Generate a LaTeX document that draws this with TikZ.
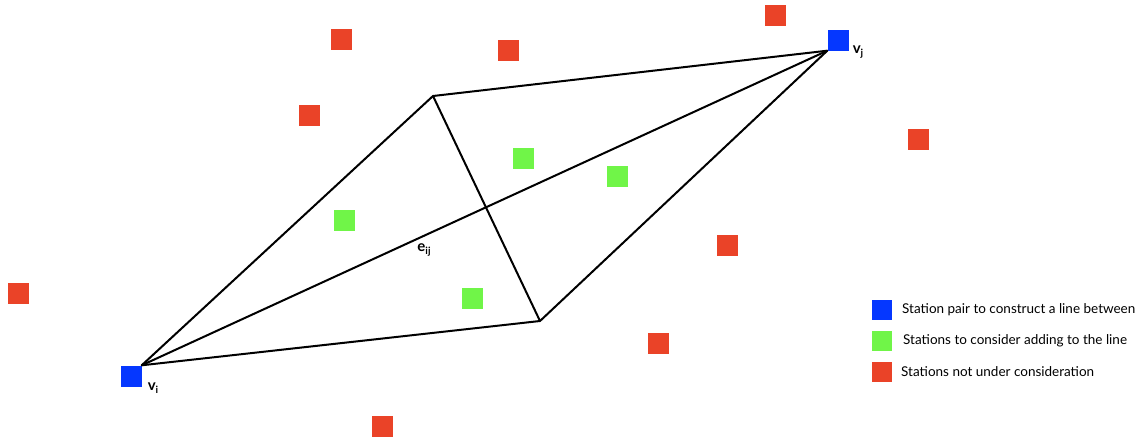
\documentclass[tikz,border=0pt]{standalone}
\usepackage{fontspec}
\setmainfont{Lato}
\definecolor{stred}{RGB}{234,67,40}
\definecolor{stgreen}{RGB}{112,245,72}
\definecolor{stblue}{RGB}{5,55,255}
\newcommand{\lowsub}[1]{\raisebox{-0.45ex}{\fontsize{10}{11}\selectfont #1}}
\tikzset{
  sq/.style={rectangle, inner sep=0pt, minimum size=21pt},
  redsq/.style={sq, fill=stred},
  greensq/.style={sq, fill=stgreen},
  bluesq/.style={sq, fill=stblue},
  legsq/.style={rectangle, inner sep=0pt, minimum size=20pt},
  edge/.style={line width=2pt, line join=round},
  lab/.style={font=\fontsize{15}{16}\selectfont\bfseries, inner sep=0pt},
  legtext/.style={font=\fontsize{13.5}{15}\selectfont, anchor=west, inner sep=0pt}
}
\begin{document}
\begin{tikzpicture}[x=1pt,y=-1pt]
\useasboundingbox (0,0) rectangle (1144,442);
% red stations
\node[redsq] (r1) at (775,15) {};
\node[redsq] (r2) at (341,39) {};
\node[redsq] (r3) at (508,50) {};
\node[redsq] (r4) at (309,115) {};
\node[redsq] (r5) at (918,139) {};
\node[redsq] (r6) at (727,245) {};
\node[redsq] (r7) at (18,293) {};
\node[redsq] (r8) at (658,343) {};
\node[redsq] (r9) at (382,426) {};
% green stations
\node[greensq] (g1) at (523,158) {};
\node[greensq] (g2) at (617,176) {};
\node[greensq] (g3) at (344,220) {};
\node[greensq] (g4) at (472,298) {};
% blue stations
\node[bluesq] (vi) at (131,376) {};
\node[bluesq] (vj) at (838,40) {};
\coordinate (top) at (433,96);
\coordinate (bot) at (540,321);
\draw[edge] (vi.north east) -- (top) -- (vj.south west) -- (bot) -- cycle;
\draw[edge] (vi.north east) -- (vj.south west);
\draw[edge] (top) -- (bot);
% labels
\node[lab] (li) at (153,388) {v\lowsub{i}};
\node[lab] (lj) at (858,52) {v\lowsub{j}};
\node[lab] (le) at (424,250) {e\lowsub{ij}};
% legend
\node[legsq, fill=stblue] (lb) at (882,310) {};
\node[legsq, fill=stgreen] (lg) at (882,341) {};
\node[legsq, fill=stred] (lr) at (882,372) {};
\node[legtext] (tb) at (902,310) {Station pair to construct a line between};
\node[legtext] (tg) at (903,341) {Stations to consider adding to the line};
\node[legtext] (tr) at (901,372) {Stations not under consideration};
\end{tikzpicture}
\end{document}
